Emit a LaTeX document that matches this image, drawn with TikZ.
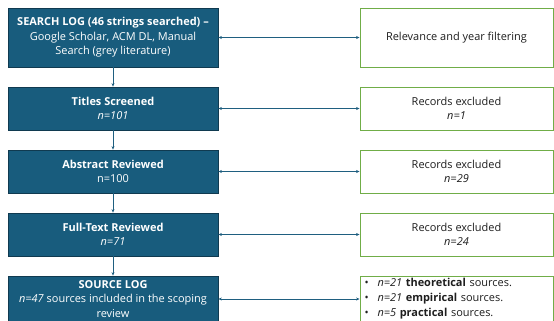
\documentclass[tikz,border=0pt]{standalone}
\usepackage{fontspec}
\setmainfont{Open Sans}
\usetikzlibrary{arrows.meta}
\definecolor{boxblue}{RGB}{24,92,125}
\definecolor{boxedge}{RGB}{16,58,80}
\definecolor{linkblue}{RGB}{31,95,128}
\definecolor{boxgreen}{RGB}{112,173,71}
\definecolor{txt}{RGB}{30,30,30}
\tikzset{
  stage/.style={draw=boxedge, line width=0.8pt, fill=boxblue, text=white, minimum width=210bp, align=center, inner sep=1pt, font=\fontsize{11}{14.5}\selectfont},
  side/.style={draw=boxgreen, line width=0.9pt, fill=white, text=txt, minimum width=193bp, align=center, inner sep=1pt, font=\fontsize{11}{14.5}\selectfont},
  link/.style={draw=linkblue, line width=0.7pt, -{Stealth[length=3.5pt,width=3pt]}},
  biglink/.style={draw=linkblue, line width=0.7pt, {Stealth[length=3.5pt,width=3pt]}-{Stealth[length=3.5pt,width=3pt]}}
}
\begin{document}
\begin{tikzpicture}[x=1bp,y=-1bp]
\useasboundingbox (0,0) rectangle (554,320);
\node[stage, minimum height=59bp] (s1) at (113,37.5) {\textbf{SEARCH LOG (46 strings searched) --}\\Google Scholar, ACM DL, Manual\\Search (grey literature)};
\node[stage, minimum height=43bp] (s2) at (113,108.5) {\textbf{Titles Screened}\\\textit{n=101}};
\node[stage, minimum height=43bp] (s3) at (113,171.5) {\textbf{Abstract Reviewed}\\n=100};
\node[stage, minimum height=43bp] (s4) at (113,234.5) {\textbf{Full-Text Reviewed}\\\textit{n=71}};
\node[stage, minimum height=46bp] (s5) at (113,299) {\textbf{SOURCE LOG}\\\textit{n=47} sources included in the scoping\\review};
\node[side, minimum height=59bp] (r1) at (456.5,37.5) {Relevance and year filtering};
\node[side, minimum height=43bp] (r2) at (456.5,108.5) {Records excluded\\\textit{n=1}};
\node[side, minimum height=43bp] (r3) at (456.5,171.5) {Records excluded\\\textit{n=29}};
\node[side, minimum height=43bp] (r4) at (456.5,234.5) {Records excluded\\\textit{n=24}};
\node[side, minimum height=46bp, align=left, text width=184bp, font=\fontsize{11}{15}\selectfont] (r5) at (456.5,299) {%
\makebox[13bp][l]{\textbullet}\textit{n=21} \textbf{theoretical} sources.\\
\makebox[13bp][l]{\textbullet}\textit{n=21} \textbf{empirical} sources.\\
\makebox[13bp][l]{\textbullet}\textit{n=5} \textbf{practical} sources.};
\draw[link] (s1) -- (s2);
\draw[link] (s2) -- (s3);
\draw[link] (s3) -- (s4);
\draw[link] (s4) -- (s5);
\draw[biglink] (s1) -- (r1);
\draw[biglink] (s2) -- (r2);
\draw[biglink] (s3) -- (r3);
\draw[biglink] (s4) -- (r4);
\draw[biglink] (s5.east) -- (r5.west);
\end{tikzpicture}
\end{document}
